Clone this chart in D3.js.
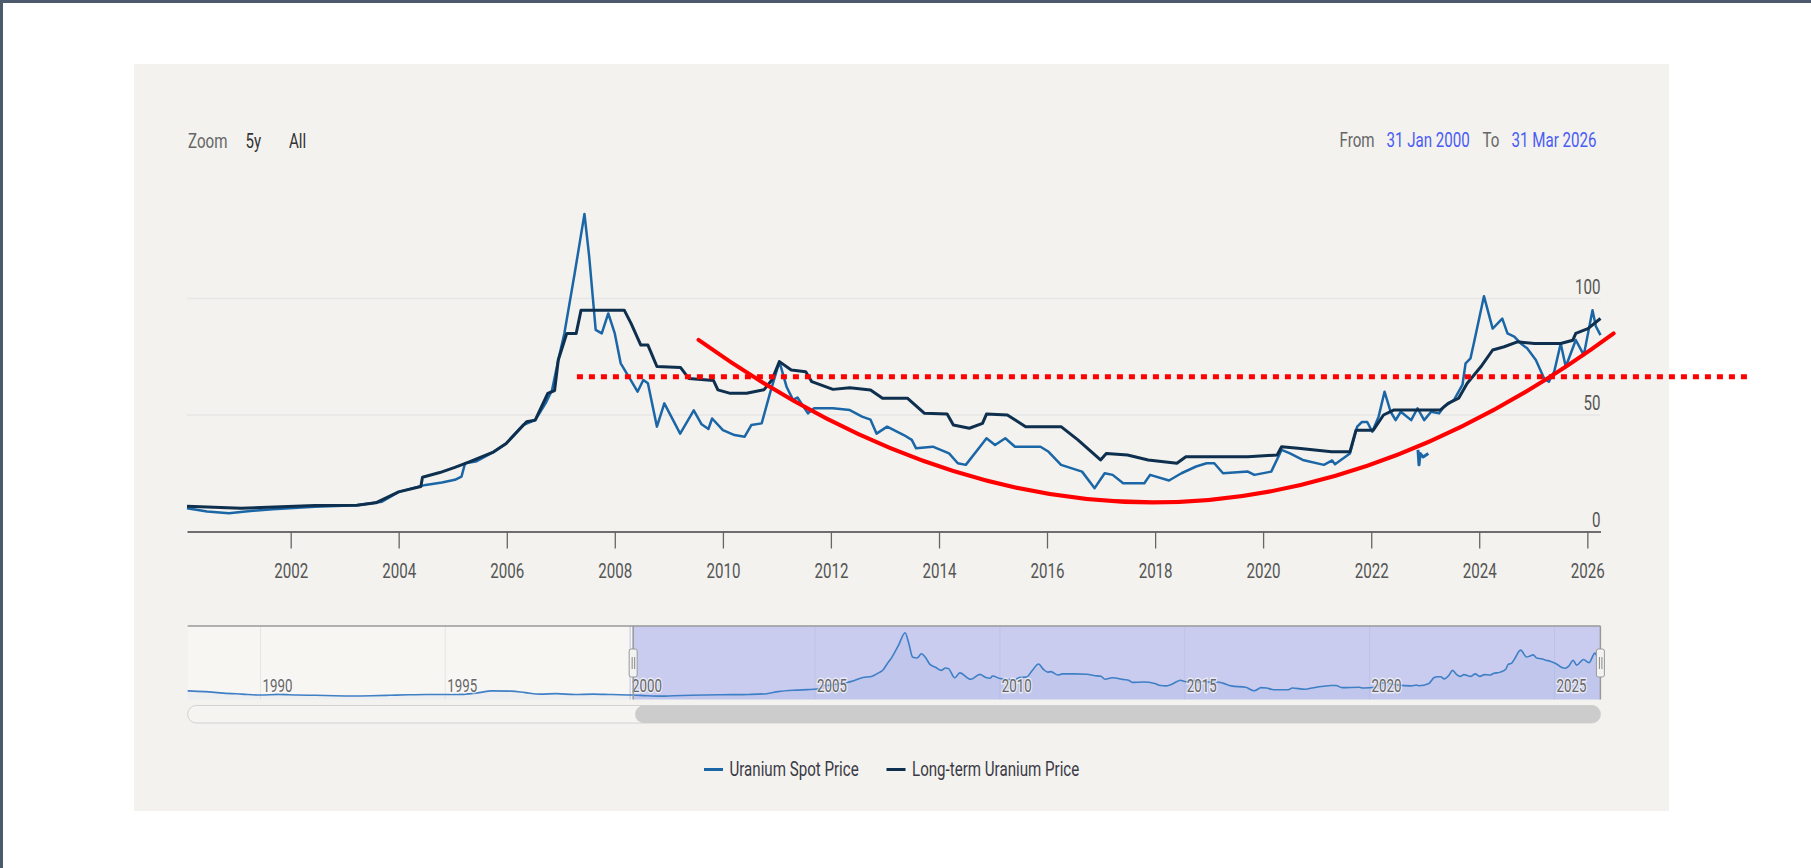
<!DOCTYPE html>
<html>
<head>
<meta charset="utf-8">
<script src="https://cdn.jsdelivr.net/npm/d3@7"></script>
<style>
  body { margin: 0; background: #fff; }
  svg { display: block; font-family: Roboto, "Noto Sans", sans-serif; }
</style>
</head>
<body>
<div id="chart"></div>
<script>
/*==========================
== DATA ====================*/

// uranium spot price, $/lb
var spotPrice = [
  ["2000-01-31",10.0],["2000-06-15",8.6],["2000-11-10",7.8],["2001-03-01",8.6],["2001-09-01",9.6],
  ["2002-06-15",10.6],["2003-03-25",11.3],["2003-09-10",12.8],["2004-01-01",17.0],["2004-07-01",20.0],
  ["2004-10-20",21.0],["2005-01-15",22.2],["2005-03-01",23.6],["2005-03-25",29.3],["2005-06-05",30.0],
  ["2005-10-05",34.2],["2005-12-28",37.8],["2006-04-20",45.7],["2006-07-12",47.8],["2006-09-20",55.0],
  ["2006-11-03",60.7],["2006-12-15",73.6],["2007-01-25",85.0],["2007-04-05",110.8],["2007-06-10",136.3],
  ["2007-07-12",118.0],["2007-08-25",86.5],["2007-10-05",85.0],["2007-11-18",93.6],["2008-01-01",85.0],
  ["2008-02-10",72.2],["2008-04-05",66.4],["2008-06-03",60.0],["2008-07-12",65.0],["2008-08-12",63.6],
  ["2008-10-12",45.0],["2008-12-01",55.0],["2009-03-18",42.0],["2009-06-18",52.0],["2009-08-10",46.0],
  ["2009-09-25",44.0],["2009-10-20",48.5],["2010-01-01",43.5],["2010-03-20",41.4],["2010-05-28",40.7],
  ["2010-07-12",45.7],["2010-09-20",46.4],["2010-11-15",59.3],["2011-01-18",72.9],["2011-03-08",62.0],
  ["2011-04-20",56.5],["2011-05-20",57.5],["2011-07-30",50.7],["2011-09-10",52.9],["2012-01-15",52.9],
  ["2012-05-08",52.1],["2012-07-30",49.3],["2012-09-25",48.0],["2012-11-05",42.0],["2013-01-15",45.0],
  ["2013-05-08",41.4],["2013-07-01",39.3],["2013-07-30",35.7],["2013-11-20",36.4],["2014-03-10",33.5],
  ["2014-05-08",29.3],["2014-07-01",28.6],["2014-10-22",37.8],["2014-11-18",40.0],["2015-01-15",37.1],
  ["2015-03-25",40.0],["2015-05-30",36.4],["2015-11-18",36.4],["2016-01-12",34.2],["2016-04-05",28.6],
  ["2016-08-25",25.7],["2016-11-18",18.6],["2017-01-25",25.0],["2017-03-20",24.3],["2017-05-30",20.7],
  ["2017-10-20",20.7],["2017-11-28",24.3],["2018-04-05",21.9],["2018-06-28",25.0],["2018-10-05",27.9],
  ["2018-12-15",29.3],["2019-02-05",29.3],["2019-04-05",25.0],["2019-09-20",25.7],["2019-11-03",24.3],
  ["2020-02-25",25.7],["2020-05-05",35.0],["2020-07-01",33.5],["2020-09-25",30.7],["2021-02-15",28.6],
  ["2021-04-12",30.5],["2021-05-01",28.9],["2021-08-10",33.5],["2021-09-28",45.0],["2021-10-30",47.0],
  ["2021-12-05",47.0],["2022-01-08",42.8],["2022-02-20",49.3],["2022-04-01",60.0],["2022-05-12",51.4],
  ["2022-06-15",47.8],["2022-07-20",51.4],["2022-09-28",47.8],["2022-11-10",52.9],["2022-12-25",47.8],
  ["2023-02-10",51.4],["2023-04-05",50.7],["2023-05-08",53.6],["2023-07-15",56.5],["2023-09-10",63.0],
  ["2023-10-01",72.2],["2023-11-03",74.3],["2023-11-28",81.4],["2024-02-02",101.0],["2024-04-01",87.1],
  ["2024-05-05",89.3],["2024-06-05",91.4],["2024-07-10",85.0],["2024-08-25",83.6],["2024-10-08",80.7],
  ["2024-11-20",78.6],["2025-01-18",73.6],["2025-03-15",65.7],["2025-04-16",64.3],["2025-05-22",68.6],
  ["2025-07-05",80.7],["2025-08-08",70.7],["2025-10-15",82.2],["2025-12-08",75.7],["2026-02-05",95.0],
  ["2026-02-28",88.0],["2026-03-31",84.3]
];

// stray spot points sitting below the line late 2022
var spotStray = [["2022-11-13",35.0],["2022-11-20",28.6],["2022-11-28",33.5],["2022-12-18",32.0],["2023-01-22",33.5]];

// long-term uranium price
var longTermPrice = [
  ["2000-01-31",10.8],["2001-01-30",10.0],["2002-06-15",11.2],["2003-03-25",11.3],["2003-07-30",12.3],
  ["2004-01-01",17.0],["2004-05-30",19.3],["2004-06-10",23.3],["2004-10-05",25.3],["2005-01-15",27.5],
  ["2005-04-10",29.6],["2005-10-05",34.2],["2005-12-28",37.8],["2006-05-15",47.1],["2006-07-12",47.8],
  ["2006-10-05",59.3],["2006-11-20",60.5],["2006-12-15",73.6],["2007-02-10",85.0],["2007-04-15",85.0],
  ["2007-05-18",95.0],["2008-03-05",95.0],["2008-04-20",89.3],["2008-06-25",80.0],["2008-08-12",80.0],
  ["2008-10-12",70.8],["2009-03-20",70.4],["2009-05-15",65.7],["2009-10-30",64.8],["2009-11-28",60.8],
  ["2010-02-20",59.3],["2010-06-10",59.3],["2010-10-05",60.8],["2010-11-28",65.0],["2011-01-18",72.9],
  ["2011-04-08",69.3],["2011-07-15",68.6],["2011-08-25",64.3],["2012-01-15",61.0],["2012-05-08",61.7],
  ["2012-09-25",60.7],["2012-12-15",57.2],["2013-06-01",57.2],["2013-09-25",50.7],["2014-02-25",50.4],
  ["2014-04-08",45.7],["2014-07-25",44.3],["2014-10-22",46.4],["2014-11-18",50.4],["2015-04-08",50.0],
  ["2015-08-10",45.0],["2016-04-05",45.0],["2016-07-28",39.3],["2016-12-28",30.7],["2017-02-05",33.5],
  ["2017-06-28",32.8],["2017-11-15",30.7],["2018-05-28",29.3],["2018-07-28",32.1],["2019-09-20",32.1],
  ["2020-04-05",32.8],["2020-05-05",36.4],["2020-08-25",35.7],["2021-04-08",34.2],["2021-08-10",34.2],
  ["2021-09-20",43.5],["2022-01-15",43.5],["2022-03-25",50.0],["2022-06-01",52.1],["2023-04-12",52.1],
  ["2023-06-05",55.0],["2023-08-15",57.2],["2023-10-12",63.6],["2024-01-12",70.7],["2024-04-01",77.9],
  ["2024-06-18",79.3],["2024-09-15",81.4],["2025-01-08",80.7],["2025-07-05",80.7],["2025-09-25",82.1],
  ["2025-10-15",85.0],["2026-01-05",87.1],["2026-03-31",91.4]
];

// spot history before 2000, only shown in the navigator
var spotEarly = [
  ["1988-01-13",18.5],["1988-07-01",17.0],["1989-01-01",14.0],["1989-07-01",12.0],["1990-01-01",10.0],
  ["1990-07-01",11.5],["1991-01-01",10.0],["1991-07-01",9.5],["1992-01-01",8.5],["1992-07-01",8.0],
  ["1993-01-01",8.5],["1993-07-01",9.5],["1994-01-01",10.5],["1994-07-01",11.0],["1995-01-01",11.0],
  ["1995-07-01",11.5],["1995-12-01",15.0],["1996-04-01",18.5],["1996-10-15",18.0],["1997-03-01",15.0],
  ["1997-08-01",12.0],["1998-01-01",13.0],["1998-07-01",11.0],["1999-01-01",12.0],["1999-07-01",11.0]
];

var xTickYears = [2002,2004,2006,2008,2010,2012,2014,2016,2018,2020,2022,2024,2026];
var yTicks = [0, 50, 100];
var navTickYears = [1990,1995,2000,2005,2010,2015,2020,2025];
var seriesNames = ["Uranium Spot Price", "Long-term Uranium Price"];

// hand drawn annotations: a support level and a "cup" curve (start, control, end)
var supportLevel = { value: 66.4, from: "2007-04-20", to: "2028-12-20" };
var cupCurve = [["2009-07-20",82.2],["2018-01-20",-58.6],["2026-06-28",85.0]];

/*==========================
== SVG =====================*/
var W = 1811, H = 868;
var parse = d3.timeParse("%Y-%m-%d");
var SQ = 0.72;   // the text in the picture is horizontally squeezed

var svg = d3.select("#chart").append("svg")
  .attr("width", W)
  .attr("height", H);

svg.append("rect").attr("width", W).attr("height", H).attr("fill", "#fff");
// window edge
svg.append("rect").attr("x", 0).attr("y", 0).attr("width", W).attr("height", 3).attr("fill", "#4d5a6e");
svg.append("rect").attr("x", 0).attr("y", 0).attr("width", 3).attr("height", H).attr("fill", "#4d5a6e");

// chart panel
svg.append("rect")
  .attr("x", 134).attr("y", 64)
  .attr("width", 1535).attr("height", 747)
  .attr("fill", "#f3f2ee");

function label(g, x, y, str, opts) {
  opts = opts || {};
  return g.append("text")
    .attr("transform", `translate(${x},${y}) scale(${SQ},1)`)
    .attr("text-anchor", opts.anchor || "start")
    .attr("font-size", opts.size || 21)
    .attr("fill", opts.fill || "#555")
    .text(str);
}

/*==========================
== SCALES ==================*/
var plot = { left: 187, right: 1600.5, top: 183, bottom: 531.5 };

var x = d3.scaleTime()
  .domain([parse("2000-01-31"), parse("2026-03-31")])
  .range([plot.left, plot.right]);

var y = d3.scaleLinear()
  .domain([0, 100])
  .range([plot.bottom, 298.5]);

var toPts = arr => arr.map(d => ({ date: parse(d[0]), value: d[1] }));
var spot = toPts(spotPrice);
var longTerm = toPts(longTermPrice);

/*==========================
== TOP BAR =================*/
var topBar = svg.append("g");
label(topBar, 188, 148, "Zoom", { fill: "#666" });
label(topBar, 245.5, 148, "5y", { fill: "#333" });
label(topBar, 289, 148, "All", { fill: "#333" });
label(topBar, 1339.5, 147, "From", { fill: "#666" });
label(topBar, 1386.5, 147, "31 Jan 2000", { fill: "#4b5cf5" });
label(topBar, 1482.5, 147, "To", { fill: "#666" });
label(topBar, 1511.5, 147, "31 Mar 2026", { fill: "#4b5cf5" });

/*==========================
== GRID + AXES =============*/
svg.append("g").selectAll("line")
  .data(yTicks.filter(v => v > 0))
  .enter().append("line")
  .attr("x1", plot.left).attr("x2", plot.right)
  .attr("y1", d => y(d)).attr("y2", d => y(d))
  .attr("stroke", "#e6e6e6").attr("stroke-width", 1.5);

var yLab = svg.append("g");
yTicks.forEach(v => label(yLab, plot.right, y(v) - 5, String(v), { anchor: "end" }));

var xAxis = d3.axisBottom(x)
  .tickValues(xTickYears.map(yr => new Date(yr, 0, 1)))
  .tickFormat(d3.timeFormat("%Y"))
  .tickSize(17)
  .tickSizeOuter(0);

var gx = svg.append("g")
  .attr("transform", `translate(0, ${plot.bottom})`)
  .call(xAxis);
gx.select(".domain").attr("stroke", "#6e6e6e").attr("stroke-width", 2);
gx.selectAll(".tick line").attr("stroke", "#666").attr("stroke-width", 1.3);
gx.selectAll(".tick text")
  .attr("y", 46.5).attr("dy", 0)
  .attr("transform", `scale(${SQ},1)`)
  .attr("font-size", 21)
  .attr("font-family", "Roboto, 'Noto Sans', sans-serif")
  .attr("fill", "#555");

/*==========================
== SERIES ==================*/
var line = d3.line()
  .x(d => x(d.date))
  .y(d => y(d.value));

svg.append("path")
  .datum(spot)
  .attr("d", line)
  .attr("fill", "none")
  .attr("stroke", "#1b66a6")
  .attr("stroke-width", 2.5)
  .attr("stroke-linejoin", "round");

svg.append("path")
  .datum(toPts(spotStray))
  .attr("d", line)
  .attr("fill", "none")
  .attr("stroke", "#1b66a6")
  .attr("stroke-width", 3)
  .attr("stroke-linejoin", "round");

svg.append("path")
  .datum(longTerm)
  .attr("d", line)
  .attr("fill", "none")
  .attr("stroke", "#0e2f4d")
  .attr("stroke-width", 3)
  .attr("stroke-linejoin", "round");

/*==========================
== NAVIGATOR ===============*/
var nav = { left: 187.7, right: 1600.4, top: 626, bottom: 699.5 };

var xNav = d3.scaleTime()
  .domain([parse("1988-01-13"), parse("2026-03-31")])
  .range([nav.left, nav.right]);
var yNav = d3.scaleLinear().domain([0, 150]).range([700, 626]);

var selX0 = xNav(parse("2000-01-31")), selX1 = xNav(parse("2026-03-31"));

svg.append("rect")
  .attr("x", nav.left).attr("y", nav.top)
  .attr("width", selX0 - nav.left).attr("height", nav.bottom - nav.top)
  .attr("fill", "#f7f6f3");
svg.append("rect")
  .attr("x", selX0).attr("y", nav.top)
  .attr("width", selX1 - selX0).attr("height", nav.bottom - nav.top)
  .attr("fill", "#c9ccef");

svg.append("g").selectAll("line")
  .data(navTickYears)
  .enter().append("line")
  .attr("x1", d => xNav(new Date(d, 0, 1))).attr("x2", d => xNav(new Date(d, 0, 1)))
  .attr("y1", nav.top).attr("y2", nav.bottom)
  .attr("stroke", d => d >= 2000 ? "#bfc3ea" : "#e6e6e6")
  .attr("stroke-width", 1);

var navData = toPts(spotEarly).concat(spot);
svg.append("path")
  .datum(navData)
  .attr("d", d3.area().x(d => xNav(d.date)).y0(nav.bottom).y1(d => yNav(d.value)).curve(d3.curveMonotoneX))
  .attr("fill", "#3f7fc6").attr("fill-opacity", 0.06);
svg.append("path")
  .datum(navData)
  .attr("d", d3.line().x(d => xNav(d.date)).y(d => yNav(d.value)).curve(d3.curveMonotoneX))
  .attr("fill", "none")
  .attr("stroke", "#3f7fc6")
  .attr("stroke-width", 1.6);

var navLab = svg.append("g");
navTickYears.forEach(yr => {
  label(navLab, xNav(new Date(yr, 0, 1)) + 2, 691.5, String(yr), { size: 18.5, fill: "#666" })
    .attr("stroke", "rgba(250,250,250,0.7)").attr("stroke-width", 3)
    .attr("paint-order", "stroke");
});

// outline
svg.append("path")
  .attr("d", `M${nav.left},${nav.top}H${nav.right}M${selX0},${nav.top}V${nav.bottom}M${selX1},${nav.top}V${nav.bottom}`)
  .attr("fill", "none").attr("stroke", "#999").attr("stroke-width", 1.5);

// handles
[selX0, selX1].forEach(hx => {
  var h = svg.append("g").attr("transform", `translate(${hx},649)`);
  h.append("rect").attr("x", -4).attr("y", 0).attr("width", 8).attr("height", 28).attr("rx", 2)
    .attr("fill", "#f2f2f2").attr("stroke", "#999").attr("stroke-width", 1);
  h.append("path").attr("d", "M-1,8V20M1.5,8V20").attr("stroke", "#888").attr("stroke-width", 1);
});

// scrollbar
svg.append("rect")
  .attr("x", nav.left).attr("y", 705.5)
  .attr("width", nav.right - nav.left).attr("height", 17.5).attr("rx", 8.5)
  .attr("fill", "#f5f4f1").attr("stroke", "#d2d2d2").attr("stroke-width", 1);
svg.append("rect")
  .attr("x", selX0 + 2).attr("y", 705.5)
  .attr("width", selX1 - selX0 - 2).attr("height", 17.5).attr("rx", 8.5)
  .attr("fill", "#cccccc");

/*==========================
== LEGEND ==================*/
var legend = svg.append("g");
var legendItems = [
  { name: seriesNames[0], color: "#1b66a6", x: 704 },
  { name: seriesNames[1], color: "#0e2f4d", x: 886.5 }
];
legendItems.forEach(it => {
  legend.append("line")
    .attr("x1", it.x).attr("x2", it.x + 19)
    .attr("y1", 769.5).attr("y2", 769.5)
    .attr("stroke", it.color).attr("stroke-width", 3);
  label(legend, it.x + 25.5, 776, it.name, { fill: "#3a3a46" });
});

/*==========================
== ANNOTATIONS =============*/
svg.append("line")
  .attr("x1", x(parse(supportLevel.from))).attr("x2", x(parse(supportLevel.to)))
  .attr("y1", y(supportLevel.value)).attr("y2", y(supportLevel.value))
  .attr("stroke", "#ff0000").attr("stroke-width", 5)
  .attr("stroke-dasharray", "6,6");

var c = cupCurve.map(d => [x(parse(d[0])), y(d[1])]);
var cup = d3.path();
cup.moveTo(c[0][0], c[0][1]);
cup.quadraticCurveTo(c[1][0], c[1][1], c[2][0], c[2][1]);
svg.append("path")
  .attr("d", cup.toString())
  .attr("fill", "none")
  .attr("stroke", "#ff0000")
  .attr("stroke-width", 4)
  .attr("stroke-linecap", "round");
</script>
</body>
</html>
